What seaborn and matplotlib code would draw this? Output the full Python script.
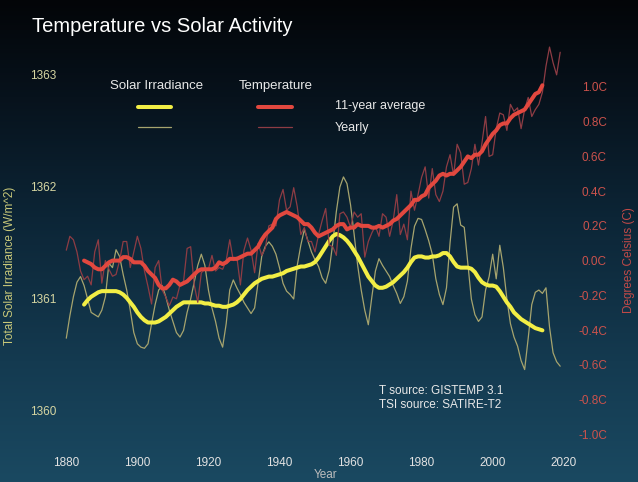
import numpy as np
import pandas as pd
import matplotlib.pyplot as plt
from matplotlib.colors import LinearSegmentedColormap
from matplotlib.lines import Line2D
import seaborn as sns

# ---- data ----
years = list(range(1880, 2020))
avg_years = list(range(1885, 2015))

# Total solar irradiance, yearly (W/m^2)
tsi_yearly = [
    1360.65, 1360.85, 1361.02, 1361.15, 1361.20, 1361.12, 1361.00, 1360.88, 1360.86, 1360.84,
    1360.90, 1361.02, 1361.32, 1361.28, 1361.44, 1361.38, 1361.22, 1361.08, 1360.90, 1360.70,
    1360.60, 1360.57, 1360.56, 1360.60, 1360.78, 1360.95, 1361.08, 1361.12, 1361.02, 1360.90,
    1360.80, 1360.70, 1360.66, 1360.72, 1360.88, 1361.00, 1361.15, 1361.30, 1361.40, 1361.30,
    1361.08, 1360.92, 1360.80, 1360.65, 1360.57, 1360.78, 1361.08, 1361.17, 1361.10, 1361.04,
    1360.97, 1360.92, 1360.87, 1360.92, 1361.15, 1361.38, 1361.47, 1361.51, 1361.47, 1361.40,
    1361.28, 1361.14, 1361.07, 1361.04, 1361.00, 1361.30, 1361.48, 1361.62, 1361.52, 1361.42,
    1361.35, 1361.29, 1361.19, 1361.14, 1361.26, 1361.50, 1361.78, 1362.00, 1362.09, 1362.03,
    1361.84, 1361.58, 1361.30, 1361.08, 1360.90, 1360.77, 1361.02, 1361.25, 1361.36, 1361.30,
    1361.25, 1361.20, 1361.12, 1361.05, 1360.96, 1361.02, 1361.16, 1361.45, 1361.65, 1361.72,
    1361.71, 1361.62, 1361.52, 1361.40, 1361.18, 1361.04, 1360.95, 1361.10, 1361.50, 1361.82,
    1361.85, 1361.66, 1361.64, 1361.32, 1361.00, 1360.86, 1360.80, 1360.84, 1361.08, 1361.20,
    1361.40, 1361.18, 1361.48, 1361.28, 1361.00, 1360.78, 1360.66, 1360.58, 1360.45, 1360.37,
    1360.65, 1360.95, 1361.06, 1361.08, 1361.05, 1361.10, 1360.75, 1360.52, 1360.44, 1360.40,
]

# Total solar irradiance, 11-year average
tsi_avg = [
    1360.95, 1360.99, 1361.02, 1361.04, 1361.06, 1361.07, 1361.07, 1361.07, 1361.07, 1361.07,
    1361.06, 1361.04, 1361.01, 1360.97, 1360.93, 1360.88, 1360.84, 1360.81, 1360.79, 1360.79,
    1360.79, 1360.80, 1360.82, 1360.84, 1360.87, 1360.90, 1360.93, 1360.95, 1360.97, 1360.97,
    1360.97, 1360.97, 1360.97, 1360.97, 1360.96, 1360.96, 1360.95, 1360.94, 1360.94, 1360.93,
    1360.93, 1360.94, 1360.95, 1360.97, 1361.00, 1361.04, 1361.08, 1361.11, 1361.14, 1361.16,
    1361.18, 1361.19, 1361.20, 1361.20, 1361.21, 1361.22, 1361.23, 1361.25, 1361.26, 1361.27,
    1361.28, 1361.29, 1361.29, 1361.30, 1361.31, 1361.33, 1361.37, 1361.42, 1361.47, 1361.52,
    1361.56, 1361.58, 1361.57, 1361.55, 1361.52, 1361.48, 1361.43, 1361.38, 1361.32, 1361.26,
    1361.20, 1361.16, 1361.12, 1361.10, 1361.10, 1361.11, 1361.13, 1361.15, 1361.18, 1361.21,
    1361.24, 1361.28, 1361.33, 1361.37, 1361.38, 1361.38, 1361.37, 1361.37, 1361.38, 1361.38,
    1361.39, 1361.41, 1361.41, 1361.38, 1361.33, 1361.29, 1361.28, 1361.28, 1361.28, 1361.27,
    1361.24, 1361.19, 1361.15, 1361.13, 1361.12, 1361.12, 1361.11, 1361.07, 1361.02, 1360.97,
    1360.93, 1360.88, 1360.85, 1360.82, 1360.80, 1360.78, 1360.76, 1360.74, 1360.73, 1360.72,
]

# Temperature anomaly, yearly (C)
temp_yearly = [
    0.06, 0.14, 0.12, 0.05, -0.06, -0.11, -0.09, -0.14, 0.05, 0.12,
    -0.13, 0.00, -0.05, -0.09, -0.08, 0.00, 0.11, 0.11, -0.04, 0.05,
    0.14, 0.07, -0.06, -0.15, -0.25, -0.04, 0.00, -0.17, -0.21, -0.26,
    -0.21, -0.22, -0.14, -0.12, 0.07, 0.08, -0.14, -0.24, -0.07, -0.05,
    -0.05, 0.03, -0.06, -0.04, -0.05, 0.00, 0.12, 0.00, 0.02, -0.14,
    0.06, 0.13, 0.06, -0.07, 0.10, 0.03, 0.07, 0.20, 0.21, 0.20,
    0.35, 0.41, 0.29, 0.31, 0.42, 0.31, 0.15, 0.19, 0.11, 0.11,
    0.05, 0.15, 0.23, 0.30, 0.09, 0.08, 0.03, 0.27, 0.28, 0.25,
    0.19, 0.28, 0.25, 0.27, 0.02, 0.11, 0.16, 0.20, 0.14, 0.27,
    0.25, 0.14, 0.23, 0.38, 0.15, 0.21, 0.12, 0.40, 0.29, 0.38,
    0.48, 0.54, 0.36, 0.53, 0.38, 0.34, 0.40, 0.54, 0.61, 0.49,
    0.67, 0.62, 0.44, 0.45, 0.53, 0.67, 0.55, 0.68, 0.83, 0.60,
    0.61, 0.76, 0.85, 0.84, 0.75, 0.90, 0.86, 0.88, 0.76, 0.87,
    0.94, 0.83, 0.87, 0.90, 0.97, 1.12, 1.23, 1.14, 1.07, 1.20,
]

# Temperature anomaly, 11-year average
temp_avg = [
    0.00, -0.01, -0.02, -0.04, -0.05, -0.05, -0.03, -0.01, 0.00, 0.00,
    0.00, 0.02, 0.02, 0.01, -0.01, -0.01, -0.01, -0.03, -0.06, -0.08,
    -0.10, -0.14, -0.16, -0.16, -0.14, -0.11, -0.12, -0.14, -0.13, -0.12,
    -0.10, -0.08, -0.06, -0.05, -0.05, -0.05, -0.05, -0.04, -0.01, -0.02,
    -0.01, 0.01, 0.01, 0.01, 0.02, 0.03, 0.04, 0.04, 0.06, 0.08,
    0.12, 0.15, 0.17, 0.19, 0.24, 0.26, 0.27, 0.28, 0.27, 0.26,
    0.25, 0.23, 0.21, 0.21, 0.19, 0.16, 0.14, 0.15, 0.16, 0.17,
    0.18, 0.20, 0.21, 0.21, 0.18, 0.19, 0.19, 0.21, 0.20, 0.20,
    0.20, 0.19, 0.19, 0.20, 0.19, 0.20, 0.21, 0.23, 0.24, 0.26,
    0.28, 0.30, 0.32, 0.35, 0.35, 0.37, 0.38, 0.42, 0.44, 0.46,
    0.49, 0.50, 0.49, 0.50, 0.50, 0.52, 0.54, 0.57, 0.60, 0.59,
    0.61, 0.61, 0.63, 0.67, 0.70, 0.73, 0.75, 0.78, 0.79, 0.79,
    0.82, 0.84, 0.85, 0.86, 0.87, 0.90, 0.93, 0.96, 0.97, 1.01,
]

x_ticks = [1880, 1900, 1920, 1940, 1960, 1980, 2000, 2020]
tsi_ticks = [1360, 1361, 1362, 1363]
temp_ticks = [-1.0, -0.8, -0.6, -0.4, -0.2, 0.0, 0.2, 0.4, 0.6, 0.8, 1.0]
temp_labels = ['%.1fC' % t for t in temp_ticks]

yearly = pd.DataFrame({'year': years, 'tsi': tsi_yearly, 'temp': temp_yearly})
smooth = pd.DataFrame({'year': avg_years, 'tsi': tsi_avg, 'temp': temp_avg})

# ---- style ----
sns.set_style('dark')
plt.rcParams['font.family'] = ['Liberation Sans', 'DejaVu Sans']

W, H = 638, 482
def px(x):
    return x / W
def py(y):
    return 1 - y / H

YEL = '#f2ee45'
YEL_THIN = '#a6a46e'
RED = '#e2483f'
RED_THIN = '#8e3c44'
TXT = '#e8e8e8'

fig = plt.figure(figsize=(W / 100, H / 100), dpi=100)

# background gradient
bg = fig.add_axes([0, 0, 1, 1], zorder=-10)
cmap = LinearSegmentedColormap.from_list(
    'bg', [(0.0, '#1a4961'), (0.25, '#143a50'), (0.55, '#0c2536'), (0.8, '#07121c'), (1.0, '#030508')])
grad = np.linspace(0, 1, 256).reshape(-1, 1)
bg.imshow(grad, aspect='auto', cmap=cmap, extent=[0, 1, 0, 1], origin='lower')
bg.axis('off')

# main axes (pixels 62..575 horizontally, 40..440 vertically)
ax = fig.add_axes([px(62), py(440), (575 - 62) / W, 400 / H])
ax.set_facecolor('none')
ax2 = ax.twinx()
ax2.set_facecolor('none')

sns.lineplot(data=yearly, x='year', y='tsi', ax=ax, color=YEL_THIN, linewidth=0.9, errorbar=None)
sns.lineplot(data=smooth, x='year', y='tsi', ax=ax, color=YEL, linewidth=2.9, errorbar=None)
sns.lineplot(data=yearly, x='year', y='temp', ax=ax2, color=RED_THIN, linewidth=0.9, errorbar=None)
sns.lineplot(data=smooth, x='year', y='temp', ax=ax2, color=RED, linewidth=2.9, errorbar=None)

ax.set_xlim(1878.79, 2023.17)
ax.set_ylim(1359.741, 1363.3125)
ax2.set_ylim(-1.0334, 1.2707)

ax.set_xticks(x_ticks)
ax.set_yticks(tsi_ticks)
ax.set_yticklabels([str(t) for t in tsi_ticks])
ax2.set_yticks(temp_ticks)
ax2.set_yticklabels(temp_labels)

for a in (ax, ax2):
    a.grid(False)
    a.set_xlabel('')
    a.set_ylabel('')
    for s in a.spines.values():
        s.set_visible(False)
    a.tick_params(length=0)

ax.tick_params(axis='x', colors='#e2e2e2', labelsize=8.5, pad=12)
ax.tick_params(axis='y', colors='#d6d6a2', labelsize=8.5, pad=4)
ax2.tick_params(axis='y', colors='#cc524c', labelsize=8.5, pad=23)
for lbl in ax2.get_yticklabels():
    lbl.set_horizontalalignment('right')

# axis titles
fig.text(px(10), py(266), 'Total Solar Irradiance (W/m^2)', rotation=90, ha='center', va='center',
         fontsize=8.5, color='#c9c97a')
fig.text(px(629), py(260), 'Degrees Celsius (C)', rotation=90, ha='center', va='center',
         fontsize=8.5, color='#c24a48')
fig.text(px(326), py(475), 'Year', ha='center', va='center', fontsize=8.5, color='#bdbdbd')

# title
fig.text(px(32), py(27), 'Temperature vs Solar Activity', ha='left', va='center',
         fontsize=14.5, color='white')

# legend
fig.text(px(110), py(86), 'Solar Irradiance', ha='left', va='center', fontsize=9.5, color=TXT)
fig.text(px(239), py(86), 'Temperature', ha='left', va='center', fontsize=9.5, color=TXT)
fig.text(px(335), py(106.5), '11-year average', ha='left', va='center', fontsize=9, color=TXT)
fig.text(px(335), py(128), 'Yearly', ha='left', va='center', fontsize=9, color=TXT)
legend_lines = [
    (138, 171, 106.7, YEL, 2.9),
    (258, 292, 106.7, RED, 2.9),
    (138, 171, 126.7, YEL_THIN, 0.9),
    (258, 292, 126.7, RED_THIN, 0.9),
]
for x0, x1, yy, c, lw in legend_lines:
    fig.add_artist(Line2D([px(x0), px(x1)], [py(yy), py(yy)], transform=fig.transFigure,
                          color=c, linewidth=lw, solid_capstyle='round'))

# sources
fig.text(px(379), py(391), 'T source: GISTEMP 3.1', ha='left', va='center', fontsize=8.5, color=TXT)
fig.text(px(379), py(404.5), 'TSI source: SATIRE-T2', ha='left', va='center', fontsize=8.5, color=TXT)

fig.savefig('out.png', dpi=100)
